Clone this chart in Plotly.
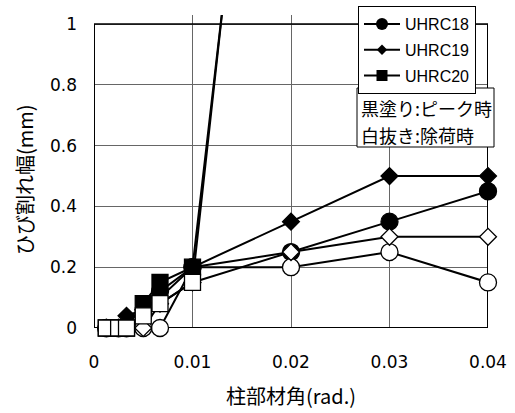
import plotly.graph_objects as go

# ---- data ----
drift = [0.00125, 0.0025, 0.0033, 0.005, 0.0067, 0.01, 0.02, 0.03, 0.04]
uhrc18_peak   = [0, 0, 0, 0.04, 0.12, 0.20, 0.25, 0.35, 0.45]
uhrc18_unload = [0, 0, 0, 0, 0, 0.20, 0.20, 0.25, 0.15]
uhrc19_peak   = [0, 0, 0.04, 0.06, 0.10, 0.20, 0.35, 0.50, 0.50]
uhrc19_unload = [0, 0, 0, 0, 0.08, 0.15, 0.25, 0.30, 0.30]
uhrc20_peak   = [0, 0, 0, 0.08, 0.15, 0.20, 3.0, None, None]
uhrc20_unload = [0, 0, 0, 0.04, 0.08, 0.15, 3.1, None, None]

names = ["UHRC18", "UHRC19", "UHRC20"]
x_ticks = [0, 0.01, 0.02, 0.03, 0.04]
y_ticks = [0, 0.2, 0.4, 0.6, 0.8, 1]
x_title = "柱部材角(rad.)"
y_title = "ひび割れ幅(mm)"
note_lines = ["黒塗り:ピーク時", "白抜き:除荷時"]

XMAX = 0.04
YMAX = 1.0
YTOP = 1.03

JP = "Noto Sans CJK JP"
LAT = "DejaVu Sans"
LEG = "Liberation Sans"

series = [
    (uhrc18_peak, "circle", "black", 17),
    (uhrc18_unload, "circle", "white", 17),
    (uhrc19_peak, "diamond", "black", 13),
    (uhrc19_unload, "diamond", "white", 13),
    (uhrc20_peak, "square", "black", 16),
    (uhrc20_unload, "square", "white", 16),
]

fig = go.Figure()
for vals, sym, fill, size in series:
    sizes = [size if (v is not None and v <= YTOP) else 0 for v in vals]
    fig.add_trace(go.Scatter(
        x=drift, y=vals, mode="lines+markers", showlegend=False,
        cliponaxis=False,
        line=dict(color="black", width=2),
        marker=dict(symbol=sym, size=sizes, color=fill, opacity=1,
                    line=dict(color="black", width=1.3)),
    ))

# legend-only entries
leg_specs = [("circle", 12), ("diamond", 8), ("square", 11)]
for i, (nm, (sym, sz)) in enumerate(zip(names, leg_specs)):
    fig.add_trace(go.Scatter(
        x=[None], y=[None], mode="lines+markers", name=nm,
        legendgroup=f"g{i}",
        line=dict(color="black", width=2),
        marker=dict(symbol=sym, size=sz, color="black", opacity=1),
    ))

L, R, T, B = 94, 27, 15, 85
W, H = 515, 413
pw, ph = W - L - R, H - T - B

def px2paper_x(px):
    return (px - L) / pw

def px2paper_y(py):
    return (H - B - py) / ph

shapes = []
border = dict(color="black", width=2)
shapes.append(dict(type="line", xref="x", yref="y", x0=0, x1=0, y0=0, y1=YMAX,
                   line=border, layer="between"))
shapes.append(dict(type="line", xref="x", yref="y", x0=XMAX, x1=XMAX, y0=0, y1=YMAX,
                   line=border, layer="between"))
shapes.append(dict(type="line", xref="x", yref="y", x0=0, x1=XMAX, y0=0, y1=0,
                   line=border, layer="between"))
shapes.append(dict(type="line", xref="x", yref="y", x0=0, x1=XMAX, y0=YMAX, y1=YMAX,
                   line=dict(color="black", width=1.5), layer="between"))
# note box
shapes.append(dict(type="rect", xref="paper", yref="paper",
                   x0=px2paper_x(357), x1=px2paper_x(494),
                   y0=px2paper_y(147), y1=px2paper_y(88),
                   line=dict(color="black", width=1), fillcolor="white", layer="above"))

annotations = [
    dict(text=note_lines[0], xref="paper", yref="paper", x=px2paper_x(359), y=px2paper_y(108),
         xanchor="left", yanchor="middle", showarrow=False,
         font=dict(family=JP, size=18, color="black")),
    dict(text=note_lines[1], xref="paper", yref="paper", x=px2paper_x(359), y=px2paper_y(135),
         xanchor="left", yanchor="middle", showarrow=False,
         font=dict(family=JP, size=18, color="black")),
    dict(text=x_title, xref="paper", yref="paper", x=0.5, y=px2paper_y(395),
         xanchor="center", yanchor="middle", showarrow=False,
         font=dict(family=JP, size=20, color="black")),
    dict(text=y_title, xref="paper", yref="paper", x=px2paper_x(24), y=px2paper_y(180),
         xanchor="center", yanchor="middle", showarrow=False, textangle=-90,
         font=dict(family=JP, size=20, color="black")),
]

fig.update_layout(
    width=W, height=H,
    margin=dict(l=L, r=R, t=T, b=B, pad=0, autoexpand=False),
    paper_bgcolor="white", plot_bgcolor="white",
    shapes=shapes, annotations=annotations,
    showlegend=True,
    legend=dict(x=px2paper_x(358), y=px2paper_y(6), xanchor="left", yanchor="top",
                bgcolor="white", bordercolor="black", borderwidth=1,
                font=dict(family=LEG, size=16, color="black"),
                itemwidth=36,
                traceorder="grouped", tracegroupgap=2),
    xaxis=dict(range=[0, XMAX], tickvals=x_ticks, ticktext=[f"{v:g}" for v in x_ticks],
               showgrid=True, gridcolor="#666666", gridwidth=1,
               zeroline=False, showline=False, ticks="",
               ticklabelstandoff=22,
               tickfont=dict(family=LAT, size=17, color="black")),
    yaxis=dict(range=[0, YTOP], tickvals=y_ticks, ticktext=[f"{v:g}" for v in y_ticks],
               showgrid=True, gridcolor="#666666", gridwidth=1,
               zeroline=False, showline=False, ticks="",
               ticklabelstandoff=16,
               tickfont=dict(family=LAT, size=17, color="black")),
)

fig.write_html("out.html")
